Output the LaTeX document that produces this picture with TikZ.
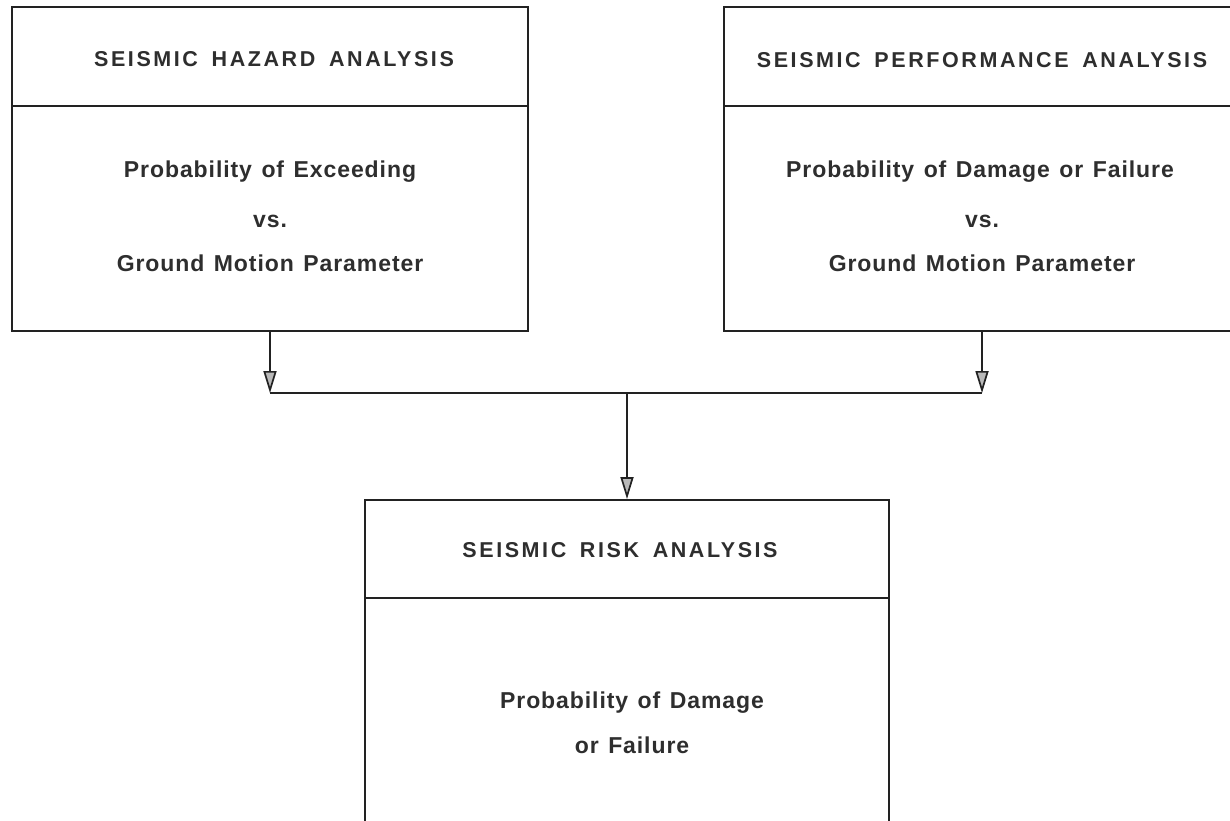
\documentclass[tikz,border=0pt]{standalone}
\usepackage{fontspec}
\setmainfont{Liberation Sans}
\newfontfamily\headfont[LetterSpace=12,WordSpace=1.6]{Liberation Sans}
\newfontfamily\bodyfont[LetterSpace=4,WordSpace=1.3]{Liberation Sans}
\usetikzlibrary{arrows.meta}
\definecolor{ink}{HTML}{222222}
\definecolor{print}{HTML}{2E2E2E}
\begin{document}
\begin{tikzpicture}[x=1pt,y=-1pt,
  panel/.style={draw=ink, line width=1.9pt, minimum width=516pt, minimum height=324pt, inner sep=0pt},
  heading/.style={anchor=base, inner sep=0pt, text=print, font=\headfont\bfseries\fontsize{21.5}{24}\selectfont},
  body/.style={anchor=base, inner sep=0pt, text=print, font=\bodyfont\bfseries\fontsize{23}{26}\selectfont},
  rule/.style={draw=ink, line width=1.9pt},
  feed/.style={draw=ink, line width=1.7pt, -{Triangle[width=13pt,length=22pt,fill=gray!55]}},
  bus/.style={draw=ink, line width=1.7pt}
]
\fill[white] (0,0) rectangle (1230,820);
\clip (0,0) rectangle (1230,820);

% hazard analysis panel
\node[panel] (haz) at (270,169) {};
\draw[rule] (haz.west |- 0,106) -- (haz.east |- 0,106);
\node[heading] (hazT) at (274,66) {SEISMIC HAZARD ANALYSIS};
\node[body] (haz1) at (270,177) {Probability of Exceeding};
\node[body] (haz2) at (270,227) {vs.};
\node[body] (haz3) at (270,271) {Ground Motion Parameter};

% performance analysis panel (runs past the right edge)
\node[panel] (perf) at (982,169) {};
\draw[rule] (perf.west |- 0,106) -- (perf.east |- 0,106);
\node[heading] (perfT) at (982,67) {SEISMIC PERFORMANCE ANALYSIS};
\node[body] (perf1) at (980,177) {Probability of Damage or Failure};
\node[body] (perf2) at (982,227) {vs.};
\node[body] (perf3) at (982,271) {Ground Motion Parameter};

% risk analysis panel (runs past the bottom edge)
\node[panel, minimum width=524pt, minimum height=340pt] (risk) at (627,670) {};
\draw[rule] (risk.west |- 0,598) -- (risk.east |- 0,598);
\node[heading] (riskT) at (620,557) {SEISMIC RISK ANALYSIS};
\node[body] (risk1) at (632,708) {Probability of Damage};
\node[body] (risk2) at (632,753) {or Failure};

% connectors
\coordinate (join) at (627,393);
\draw[feed] (haz.south) -- (haz.south |- join);
\draw[feed] (perf.south) -- (perf.south |- join);
\draw[bus] (haz.south |- join) -- (perf.south |- join);
\draw[feed] (join) -- (risk.north);
\end{tikzpicture}
\end{document}
